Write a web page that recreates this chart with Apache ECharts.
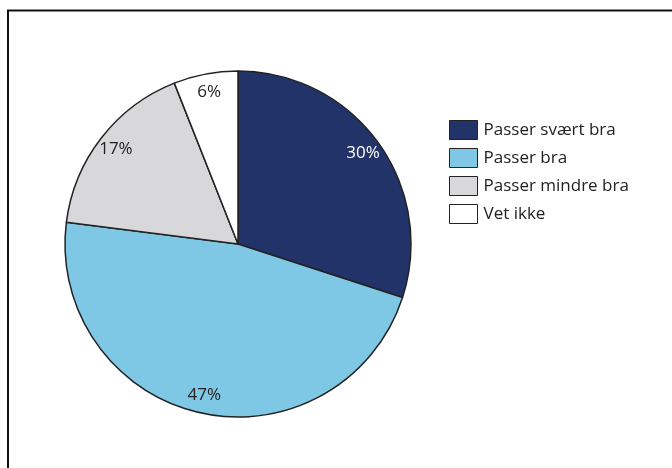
<!DOCTYPE html>
<html><head><meta charset="utf-8">
<script src="https://cdn.jsdelivr.net/npm/echarts@6/dist/echarts.min.js"></script>
<style>html,body{margin:0;padding:0;background:#fff}#c{width:672px;height:468px}</style>
</head><body><div id="c"></div>
<script>
const categories = ['Passer svært bra', 'Passer bra', 'Passer mindre bra', 'Vet ikke'];
const values = [30, 47, 17, 6];
const colors = ['#213368', '#7EC8E5', '#D8D8DA', '#FFFFFF'];
const labelColors = ['#FFFFFF', '#222222', '#222222', '#222222'];

const chart = echarts.init(document.getElementById('c'), null, {renderer: 'canvas'});
const font = '"Open Sans", "Noto Sans", sans-serif';
const pieData = categories.map((n, i) => ({name: n, value: values[i], itemStyle: {color: colors[i]}}));
const labelData = categories.map((n, i) => ({name: n, value: values[i], label: {color: labelColors[i]}}));
chart.setOption({
  animation: false,
  graphic: [
    {type: 'polyline', shape: {points: [[8, 468], [8, 10.5], [672, 10.5]]}, style: {stroke: '#111', lineWidth: 2, fill: null}}
  ],
  legend: {
    orient: 'vertical', left: 444, top: 115, itemWidth: 28, itemHeight: 19, itemGap: 8,
    icon: 'rect',
    data: categories,
    itemStyle: {borderColor: '#222', borderWidth: 1},
    textStyle: {fontFamily: font, fontSize: 17, color: '#222', padding: [0, 0, 0, 1]}
  },
  series: [
    {
      type: 'pie', center: [238, 244], radius: [0, 173], startAngle: 90, clockwise: true,
      data: pieData, label: {show: false}, labelLine: {show: false},
      itemStyle: {borderColor: '#222', borderWidth: 1.5},
      emphasis: {disabled: true}
    },
    {
      type: 'pie', center: [238, 244], radius: [130, 173], startAngle: 90, clockwise: true,
      silent: true, legendHoverLink: false,
      data: labelData,
      itemStyle: {color: 'rgba(0,0,0,0)', borderWidth: 0},
      label: {show: true, position: 'inside', formatter: '{c}%', fontFamily: font, fontSize: 17},
      labelLine: {show: false},
      emphasis: {disabled: true}
    }
  ]
});
</script></body></html>
